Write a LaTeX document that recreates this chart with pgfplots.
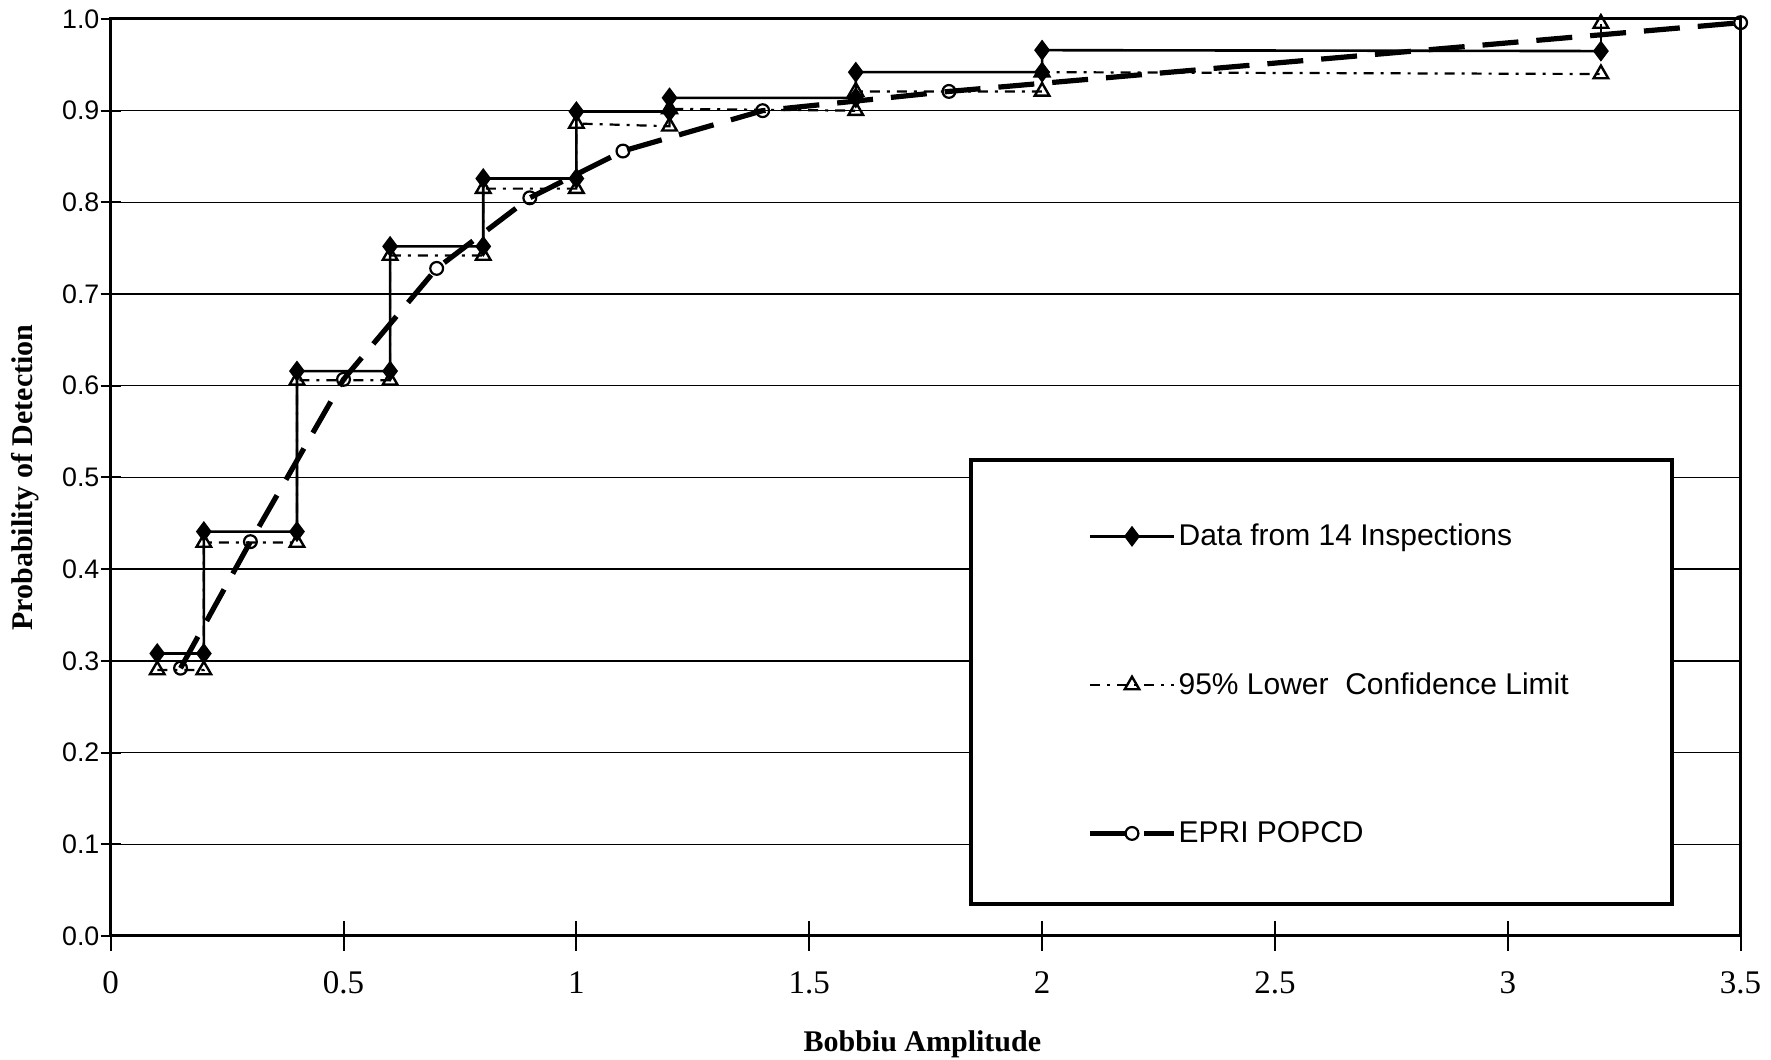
\documentclass[border=0pt]{standalone}
\usepackage{fontspec}
\setmainfont{Liberation Serif}
\newfontfamily\arial{Liberation Sans}
\usepackage{pgfplots}
\pgfplotsset{compat=1.18}

\begin{document}
\begin{tikzpicture}
\begin{axis}[
  at={(0pt,0pt)}, anchor=south west,
  scale only axis,
  width=815pt, height=458.5pt,
  xmin=0, xmax=3.5, ymin=0, ymax=1,
  xtick={0,0.5,1,1.5,2,2.5,3,3.5},
  ytick={0,0.1,0.2,0.3,0.4,0.5,0.6,0.7,0.8,0.9,1.0},
  tick pos=left,
  /pgf/number format/assume math mode=true,
  xticklabel style={font=\fontsize{16.5}{19}\selectfont, /pgf/number format/fixed, yshift=-12pt},
  yticklabel style={font=\arial\fontsize{13.4}{16}\selectfont,
    /pgf/number format/fixed, /pgf/number format/fixed zerofill,
    /pgf/number format/precision=1},
  tick align=center,
  xtick style={black, line width=1pt, /pgfplots/major tick length=14.7pt},
  ytick style={black, line width=1pt, /pgfplots/major tick length=10pt},
  ymajorgrids,
  grid style={black, line width=0.7pt},
  axis line style={line width=1.5pt},
  xlabel={Bobbiu Amplitude},
  ylabel={Probability of Detection},
  xlabel style={at={(axis description cs:0.498,-0.118)}, anchor=center, font=\bfseries\fontsize{15}{18}\selectfont},
  ylabel style={at={(axis description cs:-0.0526,0.5)}, anchor=center, font=\bfseries\fontsize{15}{18}\selectfont},
  legend cell align=left,
  legend image code/.code={\draw[mark repeat=2,mark phase=2,#1] plot coordinates {(0pt,0pt) (21pt,0pt) (42pt,0pt)};},
  legend style={at={(axis description cs:0.599,0.274)}, anchor=west, draw=none, fill=none,
    inner sep=0pt, row sep=60pt, font=\arial\fontsize{15}{18}\selectfont,
    nodes={inner sep=1pt}},
]

% legend frame, filled so the grid stops at its edges
\draw[line width=1.8pt, fill=white] (axis cs:1.847,0.035) rectangle (axis cs:3.353,0.519);

% observed detection probabilities (step function)
\addplot[black, line width=1.3pt, mark=diamond*, mark size=4.2pt, mark options={solid, fill=black}]
  coordinates {
  (0.1,0.308) (0.2,0.308) (0.2,0.441) (0.4,0.441) (0.4,0.616) (0.6,0.616)
  (0.6,0.752) (0.8,0.752) (0.8,0.826) (1.0,0.826) (1.0,0.899) (1.2,0.899)
  (1.2,0.914) (1.6,0.914) (1.6,0.942) (2.0,0.942) (2.0,0.966) (3.2,0.965)
  };
\addlegendentry{Data from 14 Inspections}

% 95% lower confidence limit
\addplot[black, line width=1.1pt, dash pattern=on 5pt off 3.5pt on 1.5pt off 3.5pt,
  mark=triangle, mark size=4.2pt, mark options={solid, fill=white, line width=1.2pt}]
  coordinates {
  (0.1,0.290) (0.2,0.290) (0.2,0.429) (0.4,0.429) (0.4,0.606) (0.6,0.606)
  (0.6,0.742) (0.8,0.742) (0.8,0.815) (1.0,0.815) (1.0,0.886) (1.2,0.883)
  (1.2,0.902) (1.6,0.900) (1.6,0.921) (2.0,0.921) (2.0,0.942) (3.2,0.940)
  };
\addlegendentry{95\% Lower\ \ Confidence Limit}

% EPRI POD curve
\addplot[black, line width=2.6pt, dash pattern=on 18pt off 9pt,
  mark=o, mark size=3.2pt, mark options={solid, fill=white, line width=1.1pt}]
  coordinates {
  (0.15,0.292) (0.3,0.430) (0.5,0.607) (0.7,0.728) (0.9,0.805)
  (1.1,0.856) (1.4,0.900) (1.8,0.921) (3.5,0.996)
  };
\addlegendentry{EPRI POPCD}

% last step at 3.2
\addplot[forget plot, black, line width=1.3pt, mark=triangle, mark size=4.2pt,
  mark indices={2}, mark options={solid, fill=white, line width=1.2pt}]
  coordinates {(3.2,0.965) (3.2,0.995)};

\end{axis}
\pgfresetboundingbox
\path[use as bounding box] (-55.35pt,-62pt) rectangle (830.2pt,468pt);
\end{tikzpicture}
\end{document}
